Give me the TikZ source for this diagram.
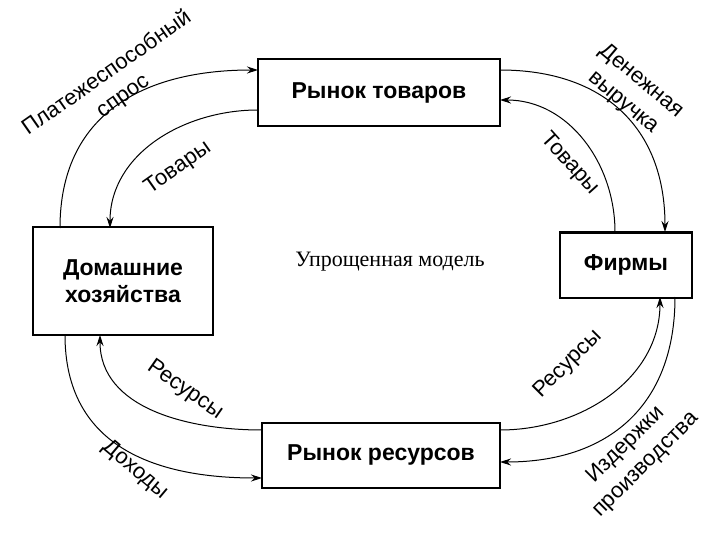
\documentclass[tikz,border=0pt]{standalone}
\usepackage{fontspec}
\setmainfont{Liberation Serif}
\newfontfamily\mysans{Liberation Sans}
\usetikzlibrary{arrows.meta}
\begin{document}
\begin{tikzpicture}[x=1pt,y=-1pt,
 box/.style={draw,line width=2pt,font=\mysans\bfseries\fontsize{23}{27}\selectfont,align=center,inner sep=0pt},
 flow/.style={-{Stealth[length=11pt,width=7pt]},line width=1pt},
 lab/.style={font=\mysans\fontsize{22}{28}\selectfont,align=center}]
\useasboundingbox (0,0) rectangle (720,540);
\node[box,minimum width=242,minimum height=67] (gm) at (379,93) {Рынок товаров};
\node[box,minimum width=180,minimum height=107] (hh) at (123,281) {Домашние\\хозяйства};
\node[box,minimum width=132,minimum height=65] (fi) at (626,265) {Фирмы};
\node[box,minimum width=238,minimum height=65] (rm) at (381,455) {Рынок ресурсов};
\node[font=\fontsize{22}{24}\selectfont] (t) at (390,262) {Упрощенная модель};
\coordinate (a1) at (60,228); \coordinate (a2) at (258,70);
\draw[flow] (a1) to[out=90,in=180,looseness=1.15] (a2);
\coordinate (b1) at (258,110); \coordinate (b2) at (110,228);
\draw[flow] (b1) to[out=180,in=90] (b2);
\coordinate (c1) at (500,70); \coordinate (c2) at (665,232);
\draw[flow] (c1) to[out=0,in=90,looseness=1.15] (c2);
\coordinate (d1) at (615,232); \coordinate (d2) at (500,100);
\draw[flow] (d1) to[out=90,in=0] (d2);
\coordinate (e1) at (500,430); \coordinate (e2) at (660,297);
\draw[flow] (e1) to[out=0,in=-90] (e2);
\coordinate (f1) at (675,297); \coordinate (f2) at (500,462);
\draw[flow] (f1) to[out=-90,in=0,looseness=1.15] (f2);
\coordinate (g1) at (262,430); \coordinate (g2) at (100,335);
\draw[flow] (g1) to[out=180,in=-90] (g2);
\coordinate (h1) at (65,335); \coordinate (h2) at (262,478);
\draw[flow] (h1) to[out=-90,in=180,looseness=1.15] (h2);
\node[lab,rotate=35] (l1) at (115,85) {Платежеспособный\\спрос};
\node[lab,rotate=35] (l2) at (178,168) {Товары};
\node[lab,rotate=-40] (l3) at (632,92) {Денежная\\выручка};
\node[lab,rotate=-48] (l4) at (570,164) {Товары};
\node[lab,rotate=45] (l5) at (568,364) {Ресурсы};
\node[lab,rotate=45] (l6) at (636,455) {Издержки\\производства};
\node[lab,rotate=-35] (l7) at (185,390) {Ресурсы};
\node[lab,rotate=-40] (l8) at (135,470) {Доходы};
\end{tikzpicture}
\end{document}
